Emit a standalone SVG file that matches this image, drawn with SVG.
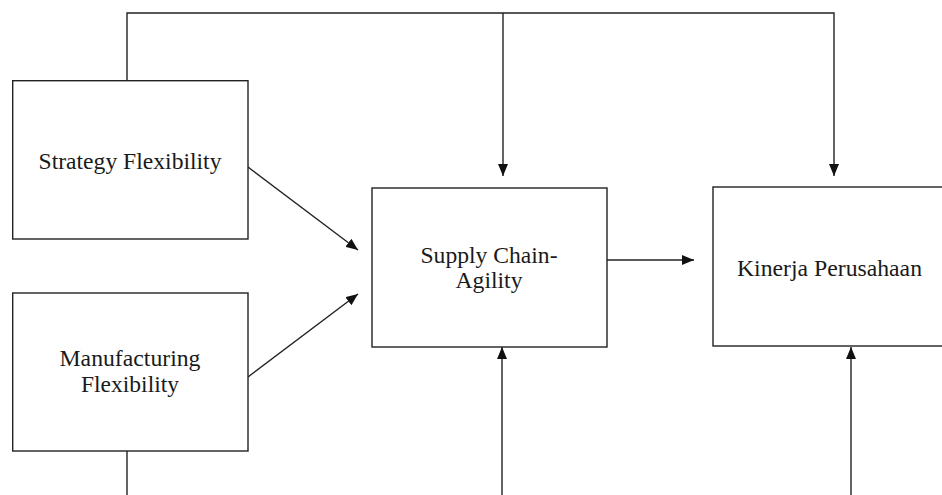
<svg xmlns="http://www.w3.org/2000/svg" width="942" height="495" viewBox="0 0 942 495">
<style>
.box{fill:#fff;stroke:#222;stroke-width:1.4}
.lbl{font-family:"Liberation Serif","Times New Roman",serif;font-size:23px;fill:#1a1a1a;text-anchor:middle}
.con{fill:none;stroke:#222;stroke-width:1.4}
</style>
<defs>
<marker id="ah" viewBox="0 0 12 10" refX="12" refY="5" markerWidth="12" markerHeight="10" markerUnits="userSpaceOnUse" orient="auto">
<path d="M0,0 L12,5 L0,10 Z" fill="#111"/>
</marker>
</defs>
<rect width="942" height="495" fill="#fff"/>
<g id="connectors">
<path class="con" d="M127,80 V13 H834 V176" marker-end="url(#ah)"/>
<path class="con" d="M503,13 V176" marker-end="url(#ah)"/>
<path class="con" d="M248,167 L358,250" marker-end="url(#ah)"/>
<path class="con" d="M248,377 L358,294" marker-end="url(#ah)"/>
<path class="con" d="M607,260 H694" marker-end="url(#ah)"/>
<path class="con" d="M127,451 V495"/>
<path class="con" d="M502,495 V347" marker-end="url(#ah)"/>
<path class="con" d="M851,495 V347" marker-end="url(#ah)"/>
</g>
<g id="strategy">
<rect class="box" x="12.7" y="80.7" width="235.3" height="158.3"/>
<text class="lbl" x="130" y="169" textLength="183" lengthAdjust="spacingAndGlyphs">Strategy Flexibility</text>
</g>
<g id="manufacturing">
<rect class="box" x="12.7" y="293" width="235.3" height="158"/>
<text class="lbl" x="130" y="366" textLength="141" lengthAdjust="spacingAndGlyphs">Manufacturing</text>
<text class="lbl" x="130" y="392" textLength="98" lengthAdjust="spacingAndGlyphs">Flexibility</text>
</g>
<g id="supply">
<rect class="box" x="372" y="188" width="235" height="159"/>
<text class="lbl" x="489" y="263" textLength="137" lengthAdjust="spacingAndGlyphs">Supply Chain-</text>
<text class="lbl" x="489" y="288" textLength="67" lengthAdjust="spacingAndGlyphs">Agility</text>
</g>
<g id="kinerja">
<rect class="box" x="713" y="187" width="240" height="159"/>
<text class="lbl" x="829.5" y="276" textLength="185" lengthAdjust="spacingAndGlyphs">Kinerja Perusahaan</text>
</g>
</svg>
